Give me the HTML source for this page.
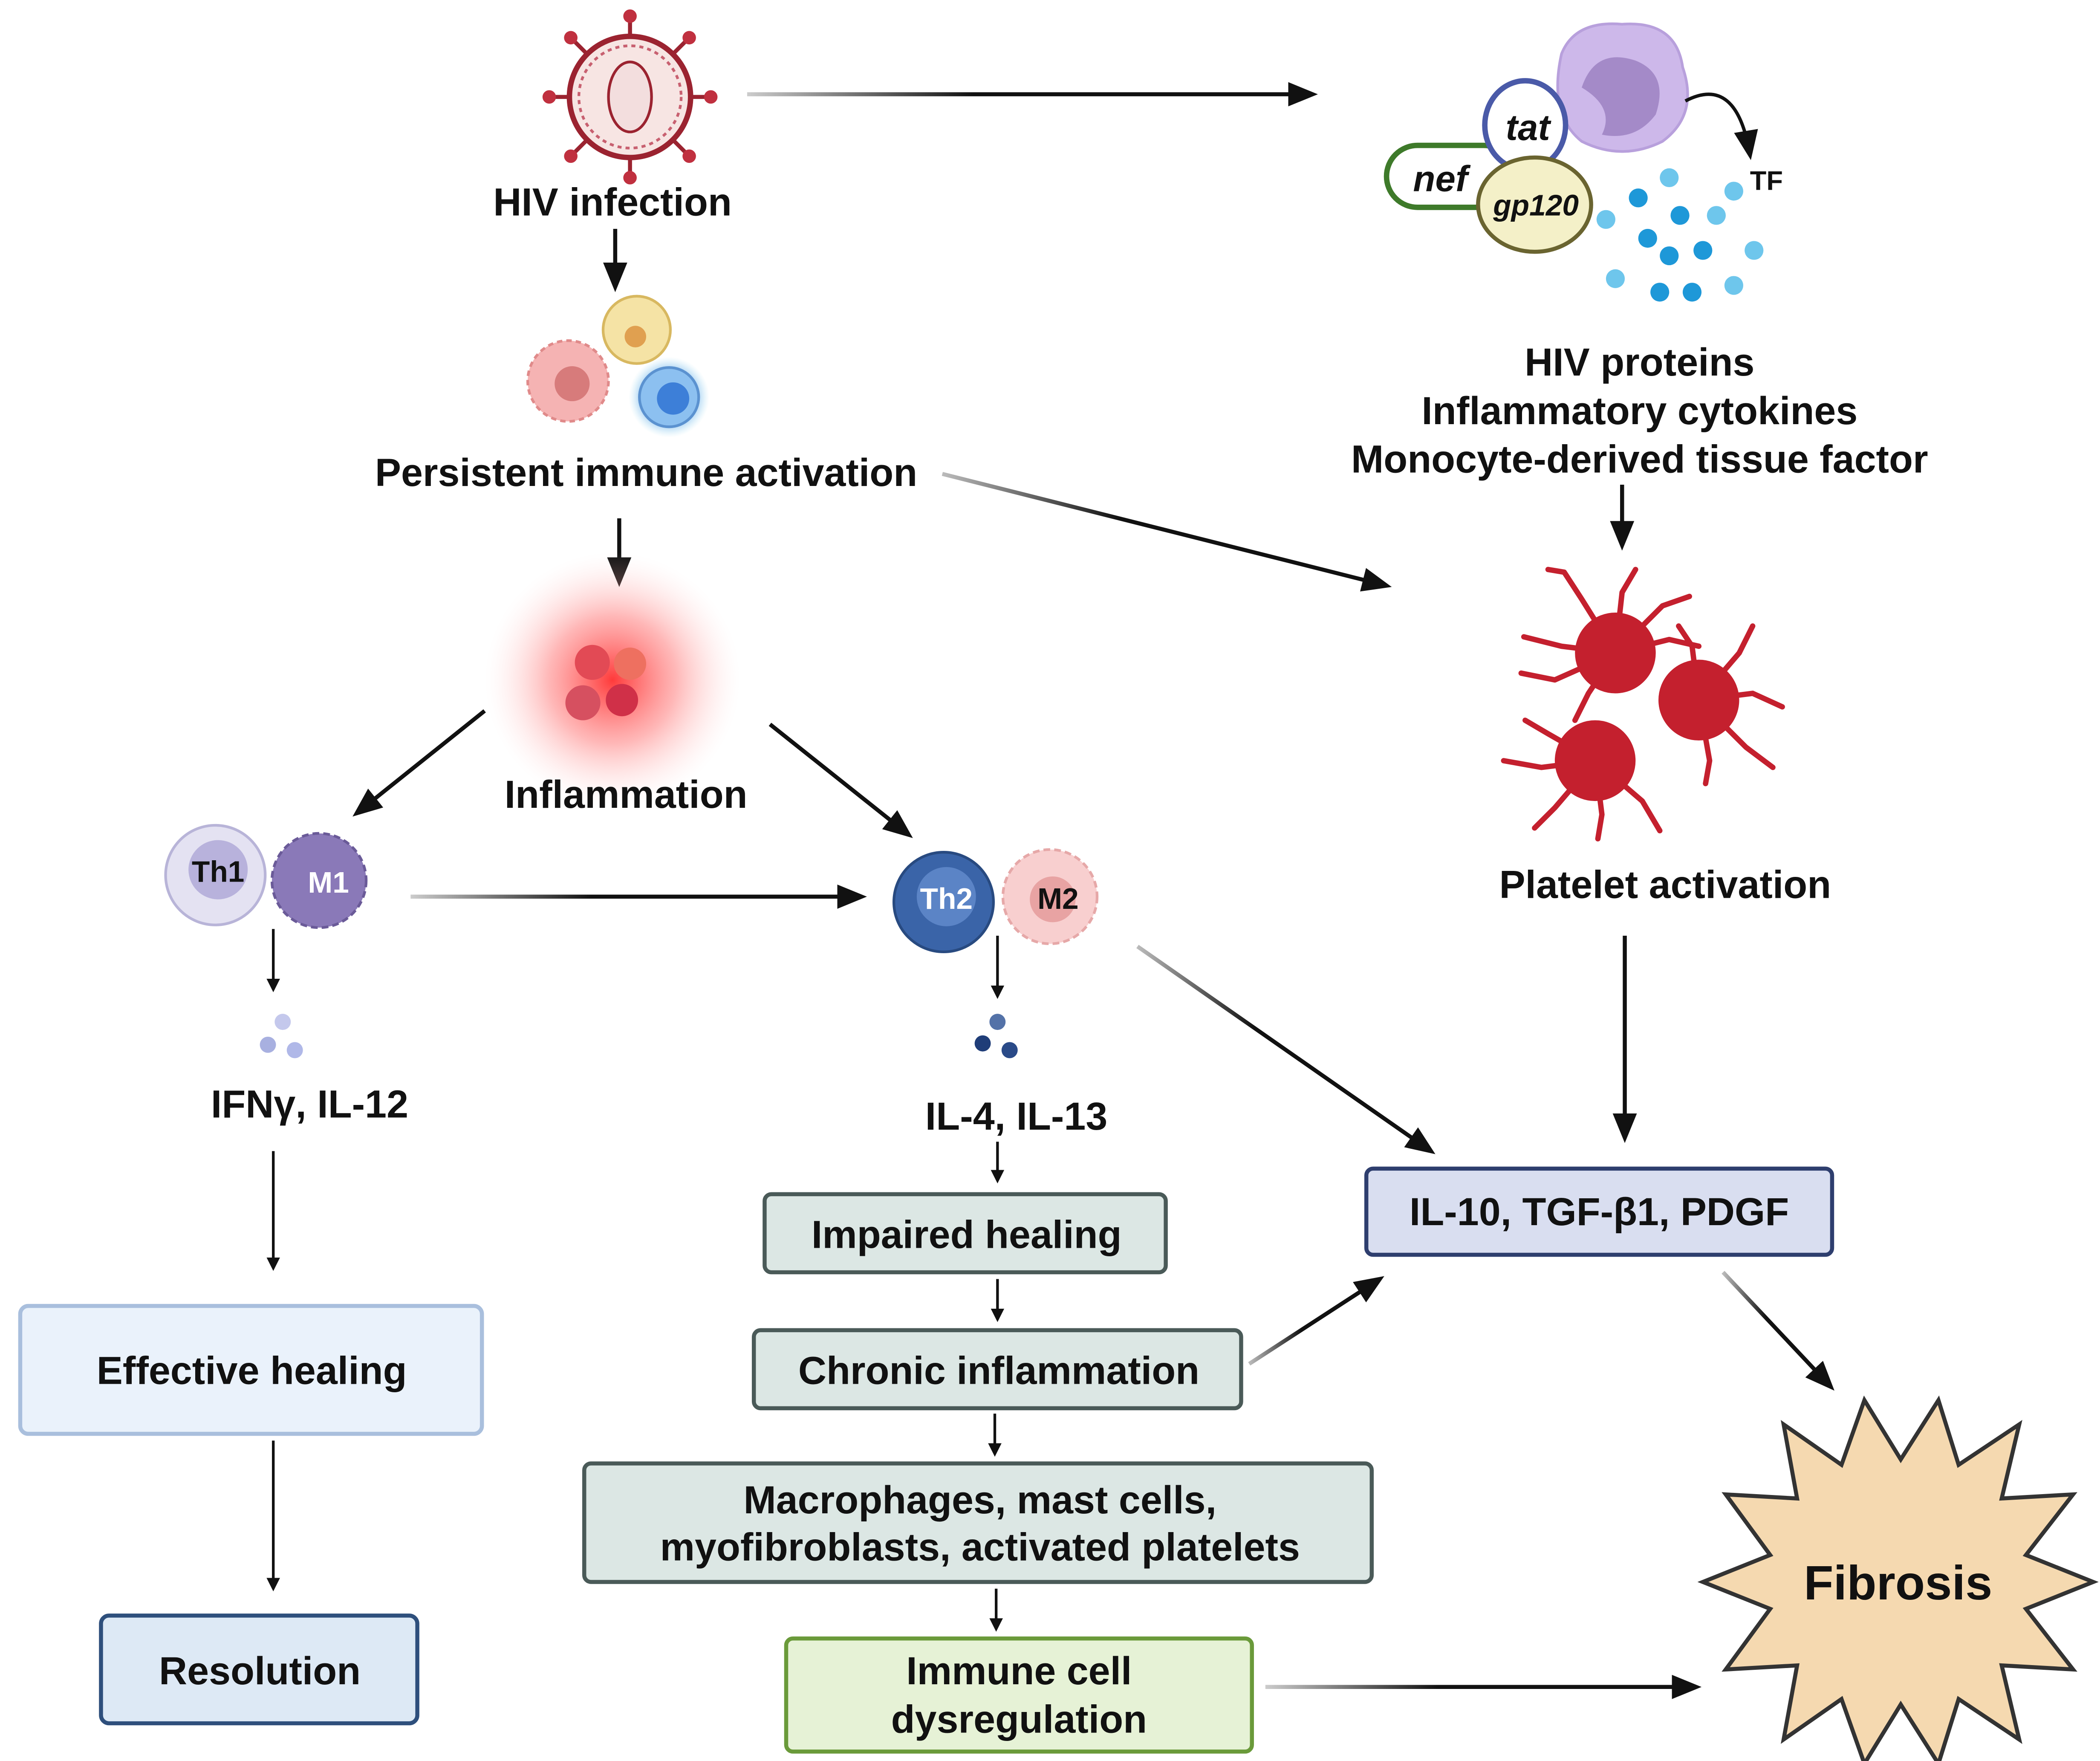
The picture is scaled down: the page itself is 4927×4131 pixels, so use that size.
<!DOCTYPE html>
<html><head><meta charset="utf-8">
<style>
html,body{margin:0;padding:0;background:#fff;}
svg{display:block;}
text{font-family:"Liberation Sans",sans-serif;font-weight:bold;fill:#111;}
</style></head>
<body>
<svg width="4927" height="4131" viewBox="0 0 1560 1308" xmlns="http://www.w3.org/2000/svg">
<defs>
<marker id="ah" markerWidth="10" markerHeight="10" refX="8" refY="5" orient="auto" markerUnits="userSpaceOnUse" viewBox="0 0 10 10">
<path d="M0,0 L10,5 L0,10 z" fill="#111"/></marker>
<marker id="ahb" markerWidth="22" markerHeight="22" refX="18" refY="11" orient="auto" markerUnits="userSpaceOnUse" viewBox="0 0 22 22">
<path d="M0,2 L22,11 L0,20 z" fill="#111"/></marker>
<linearGradient id="gh" x1="0" x2="1" y1="0" y2="0"><stop offset="0" stop-color="#bbb"/><stop offset="0.4" stop-color="#111"/></linearGradient>
<linearGradient id="g1" gradientUnits="userSpaceOnUse" x1="555" y1="0" x2="975" y2="0"><stop offset="0" stop-color="#ccc"/><stop offset="0.4" stop-color="#111"/></linearGradient>
<linearGradient id="g2" gradientUnits="userSpaceOnUse" x1="305" y1="0" x2="640" y2="0"><stop offset="0" stop-color="#ccc"/><stop offset="0.4" stop-color="#111"/></linearGradient>
<linearGradient id="g3" gradientUnits="userSpaceOnUse" x1="940" y1="0" x2="1260" y2="0"><stop offset="0" stop-color="#ccc"/><stop offset="0.4" stop-color="#111"/></linearGradient>
<radialGradient id="glow"><stop offset="0" stop-color="#ff3030" stop-opacity="0.95"/><stop offset="0.5" stop-color="#ff7070" stop-opacity="0.5"/><stop offset="1" stop-color="#ffdddd" stop-opacity="0"/></radialGradient>
<radialGradient id="bglow"><stop offset="0.6" stop-color="#7fb6ee"/><stop offset="1" stop-color="#bde8f5" stop-opacity="0"/></radialGradient>
</defs>

<!-- HIV virus -->
<g transform="translate(468,72)">
<g stroke="#9b2330" stroke-width="3">
<line x1="0" y1="-45" x2="0" y2="-58"/><line x1="0" y1="45" x2="0" y2="58"/>
<line x1="-45" y1="0" x2="-58" y2="0"/><line x1="45" y1="0" x2="58" y2="0"/>
<line x1="32" y1="32" x2="42" y2="42"/><line x1="-32" y1="32" x2="-42" y2="42"/>
<line x1="32" y1="-32" x2="42" y2="-42"/><line x1="-32" y1="-32" x2="-42" y2="-42"/>
</g>
<g fill="#c0303f">
<circle cx="0" cy="-60" r="5"/><circle cx="0" cy="60" r="5"/><circle cx="-60" cy="0" r="5"/><circle cx="60" cy="0" r="5"/>
<circle cx="44" cy="44" r="5"/><circle cx="-44" cy="44" r="5"/><circle cx="44" cy="-44" r="5"/><circle cx="-44" cy="-44" r="5"/>
</g>
<circle r="45" fill="#f7e5e3" stroke="#9b2330" stroke-width="4"/>
<circle r="38" fill="none" stroke="#c86070" stroke-width="2" stroke-dasharray="3 3"/>
<ellipse rx="16" ry="26" fill="#f3dede" stroke="#9b2330" stroke-width="2"/>
</g>
<text x="455" y="160" font-size="29" text-anchor="middle">HIV infection</text>

<line x1="555" y1="70" x2="975" y2="70" stroke="url(#g1)" stroke-width="3" marker-end="url(#ahb)"/>
<line x1="457" y1="170" x2="457" y2="213" stroke="#111" stroke-width="3" marker-end="url(#ahb)"/>

<!-- immune cells -->
<g>
<circle cx="422" cy="283" r="30" fill="#f5b3b3" stroke="#e08a8a" stroke-width="2" stroke-dasharray="4 3"/>
<circle cx="425" cy="285" r="13" fill="#d77b7b"/>
<circle cx="473" cy="245" r="25" fill="#f5e3a5" stroke="#d8b860" stroke-width="2"/>
<circle cx="472" cy="250" r="8" fill="#e0a050"/>
<circle cx="497" cy="295" r="30" fill="url(#bglow)"/>
<circle cx="497" cy="295" r="22" fill="#8cc0f0" stroke="#5b92d0" stroke-width="2"/>
<circle cx="500" cy="296" r="12" fill="#3d7fd8"/>
</g>
<text x="480" y="361" font-size="29" text-anchor="middle">Persistent immune activation</text>

<line x1="700" y1="352" x2="1030" y2="435" stroke="url(#gh)" stroke-width="3" marker-end="url(#ahb)"/>
<line x1="460" y1="385" x2="460" y2="432" stroke="#111" stroke-width="3" marker-end="url(#ahb)"/>

<!-- inflammation -->
<circle cx="455" cy="505" r="95" fill="url(#glow)"/>
<circle cx="440" cy="492" r="13" fill="#e24a55"/><circle cx="468" cy="493" r="12" fill="#ee7060"/>
<circle cx="433" cy="522" r="13" fill="#d65060"/><circle cx="462" cy="520" r="12" fill="#d03048"/>
<text x="465" y="600" font-size="29" text-anchor="middle">Inflammation</text>

<line x1="360" y1="528" x2="265" y2="604" stroke="#111" stroke-width="3" marker-end="url(#ahb)"/>
<line x1="572" y1="538" x2="675" y2="620" stroke="#111" stroke-width="3" marker-end="url(#ahb)"/>

<!-- Th1 M1 -->
<circle cx="160" cy="650" r="37" fill="#e4e2f2" stroke="#b8b4d8" stroke-width="2"/>
<circle cx="162" cy="646" r="22" fill="#b8b2dc"/>
<text x="162" y="655" font-size="22" text-anchor="middle" fill="#333">Th1</text>
<circle cx="237" cy="654" r="35" fill="#8a79b8" stroke="#6a5a98" stroke-width="2" stroke-dasharray="5 3"/>
<text x="244" y="663" font-size="22" text-anchor="middle" style="fill:#fff">M1</text>

<line x1="305" y1="666" x2="640" y2="666" stroke="url(#g2)" stroke-width="3" marker-end="url(#ahb)"/>

<!-- Th2 M2 -->
<circle cx="701" cy="670" r="37" fill="#3a64a8" stroke="#284a80" stroke-width="2"/>
<circle cx="703" cy="666" r="22" fill="#5b84c6"/>
<text x="703" y="675" font-size="22" text-anchor="middle" style="fill:#fff">Th2</text>
<circle cx="780" cy="666" r="35" fill="#f8cfcf" stroke="#e6a8a8" stroke-width="2" stroke-dasharray="5 3"/>
<circle cx="782" cy="668" r="17" fill="#e8a3a3"/>
<text x="786" y="675" font-size="22" text-anchor="middle" fill="#333">M2</text>

<!-- left column -->
<line x1="203" y1="690" x2="203" y2="735" stroke="#111" stroke-width="2" marker-end="url(#ah)"/>
<circle cx="210" cy="759" r="6" fill="#c4c8ec"/><circle cx="199" cy="776" r="6" fill="#a8b0e0"/><circle cx="219" cy="780" r="6" fill="#b0b8e8"/>
<text x="230" y="830" font-size="29" text-anchor="middle">IFNγ, IL-12</text>
<line x1="203" y1="855" x2="203" y2="942" stroke="#111" stroke-width="2" marker-end="url(#ah)"/>
<rect x="15" y="970" width="343" height="95" rx="6" fill="#eaf2fb" stroke="#a9bfdd" stroke-width="3"/>
<text x="187" y="1028" font-size="29" text-anchor="middle">Effective healing</text>
<line x1="203" y1="1070" x2="203" y2="1180" stroke="#111" stroke-width="2" marker-end="url(#ah)"/>
<rect x="75" y="1200" width="235" height="80" rx="6" fill="#dde9f5" stroke="#2e4f7c" stroke-width="3"/>
<text x="193" y="1251" font-size="29" text-anchor="middle">Resolution</text>

<!-- middle column -->
<line x1="741" y1="695" x2="741" y2="740" stroke="#111" stroke-width="2" marker-end="url(#ah)"/>
<circle cx="741" cy="759" r="6" fill="#5472a8"/><circle cx="730" cy="775" r="6" fill="#1f3d78"/><circle cx="750" cy="780" r="6" fill="#2a4a88"/>
<text x="755" y="839" font-size="29" text-anchor="middle">IL-4, IL-13</text>
<line x1="741" y1="848" x2="741" y2="877" stroke="#111" stroke-width="2" marker-end="url(#ah)"/>
<rect x="568" y="887" width="298" height="58" rx="5" fill="#dce7e4" stroke="#4a5a58" stroke-width="3"/>
<text x="718" y="927" font-size="29" text-anchor="middle">Impaired  healing</text>
<line x1="741" y1="950" x2="741" y2="980" stroke="#111" stroke-width="2" marker-end="url(#ah)"/>
<rect x="560" y="988" width="362" height="58" rx="5" fill="#dce7e4" stroke="#4a5a58" stroke-width="3"/>
<text x="742" y="1028" font-size="29" text-anchor="middle">Chronic inflammation</text>
<line x1="739" y1="1050" x2="739" y2="1080" stroke="#111" stroke-width="2" marker-end="url(#ah)"/>
<rect x="434" y="1087" width="585" height="88" rx="5" fill="#dce7e4" stroke="#4a5a58" stroke-width="3"/>
<text x="728" y="1124" font-size="29" text-anchor="middle">Macrophages, mast cells,</text>
<text x="728" y="1159" font-size="29" text-anchor="middle">myofibroblasts, activated platelets</text>
<line x1="740" y1="1180" x2="740" y2="1210" stroke="#111" stroke-width="2" marker-end="url(#ah)"/>
<rect x="584" y="1217" width="346" height="84" rx="5" fill="#e6f2d6" stroke="#6a9a3a" stroke-width="3"/>
<text x="757" y="1251" font-size="29" text-anchor="middle">Immune cell</text>
<text x="757" y="1287" font-size="29" text-anchor="middle">dysregulation</text>

<line x1="940" y1="1253" x2="1260" y2="1253" stroke="url(#g3)" stroke-width="3" marker-end="url(#ahb)"/>
<line x1="845" y1="703" x2="1063" y2="855" stroke="url(#gh)" stroke-width="3" marker-end="url(#ahb)"/>
<line x1="928" y1="1013" x2="1025" y2="950" stroke="url(#gh)" stroke-width="3" marker-end="url(#ahb)"/>

<!-- top right -->
<path d="M1160,40 Q1170,15 1205,18 Q1245,15 1250,50 Q1262,85 1235,105 Q1205,120 1175,105 Q1150,85 1160,40z" fill="#cdb8ea" stroke="#b8a0dc" stroke-width="2"/>
<path d="M1175,65 Q1185,35 1215,45 Q1240,55 1230,85 Q1215,105 1190,100 Q1200,80 1175,65z" fill="#a48ac8"/>
<path d="M1252,75 Q1290,55 1300,115" fill="none" stroke="#111" stroke-width="2.5" marker-end="url(#ahb)"/>
<text x="1300" y="141" font-size="20">TF</text>
<rect x="1030" y="108" width="95" height="46" rx="23" fill="#fff" stroke="#3e7a2a" stroke-width="4"/>
<ellipse cx="1133" cy="93" rx="30" ry="33" fill="#fff" stroke="#4a5aa8" stroke-width="4"/>
<text x="1135" y="104" font-size="27" font-style="italic" text-anchor="middle">tat</text>
<ellipse cx="1140" cy="152" rx="42" ry="35" fill="#f4f0c8" stroke="#6a6430" stroke-width="3"/>
<text x="1070" y="142" font-size="27" font-style="italic" text-anchor="middle">nef</text>
<text x="1141" y="160" font-size="22" font-style="italic" text-anchor="middle">gp120</text>
<g fill="#6ec6ec">
<circle cx="1240" cy="132" r="7"/><circle cx="1288" cy="142" r="7"/><circle cx="1193" cy="163" r="7"/><circle cx="1275" cy="160" r="7"/>
<circle cx="1303" cy="186" r="7"/><circle cx="1200" cy="207" r="7"/><circle cx="1288" cy="212" r="7"/>
</g>
<g fill="#1e98d8">
<circle cx="1217" cy="147" r="7"/><circle cx="1248" cy="160" r="7"/><circle cx="1224" cy="177" r="7"/><circle cx="1265" cy="186" r="7"/>
<circle cx="1240" cy="190" r="7"/><circle cx="1233" cy="217" r="7"/><circle cx="1257" cy="217" r="7"/>
</g>
<text x="1218" y="279" font-size="29" text-anchor="middle">HIV proteins</text>
<text x="1218" y="315" font-size="29" text-anchor="middle">Inflammatory cytokines</text>
<text x="1218" y="351" font-size="29" text-anchor="middle">Monocyte-derived tissue factor</text>
<line x1="1205" y1="360" x2="1205" y2="405" stroke="#111" stroke-width="3" marker-end="url(#ahb)"/>

<!-- platelets -->
<g fill="#c4202e" stroke="#c4202e" stroke-width="4" stroke-linecap="round" stroke-linejoin="round">
<g transform="translate(1200,485)"><circle r="28"/>
<polyline fill="none" points="0,0 -40,-5 -68,-12"/><polyline fill="none" points="0,0 -25,-40 -38,-60 -50,-62"/><polyline fill="none" points="0,0 5,-45 15,-62"/><polyline fill="none" points="0,0 35,-35 55,-42"/><polyline fill="none" points="0,0 -45,20 -70,15"/><polyline fill="none" points="0,0 40,-10 62,-5"/><polyline fill="none" points="0,0 -20,30 -30,50"/></g>
<g transform="translate(1262,520)"><circle r="28"/>
<polyline fill="none" points="0,0 40,-5 62,5"/><polyline fill="none" points="0,0 30,-35 40,-55"/><polyline fill="none" points="0,0 35,35 55,50"/><polyline fill="none" points="0,0 8,45 5,62"/><polyline fill="none" points="0,0 -5,-40 -15,-55"/></g>
<g transform="translate(1185,565)"><circle r="28"/>
<polyline fill="none" points="0,0 -40,5 -68,0"/><polyline fill="none" points="0,0 -30,35 -45,50"/><polyline fill="none" points="0,0 5,40 2,58"/><polyline fill="none" points="0,0 35,30 48,52"/><polyline fill="none" points="0,0 -35,-20 -52,-30"/></g>
</g>
<text x="1237" y="667" font-size="29" text-anchor="middle">Platelet activation</text>
<line x1="1207" y1="695" x2="1207" y2="845" stroke="#111" stroke-width="3" marker-end="url(#ahb)"/>

<rect x="1015" y="868" width="346" height="64" rx="5" fill="#d9def0" stroke="#2e3e6e" stroke-width="3"/>
<text x="1188" y="910" font-size="29" text-anchor="middle">IL-10, TGF-β1, PDGF</text>
<line x1="1280" y1="945" x2="1360" y2="1030" stroke="url(#gh)" stroke-width="3" marker-end="url(#ahb)"/>

<!-- fibrosis star -->
<polygon fill="#f5d9b0" stroke="#333" stroke-width="3" points="
1555,1175 1505,1195 1540,1240 1487,1237 1500,1292 1455,1262 1440,1310 1412,1266 1385,1310 1368,1262 1325,1292 1335,1237 1282,1240 1315,1195 1265,1175 1315,1155 1282,1110 1335,1113 1325,1058 1368,1088 1385,1040 1412,1084 1440,1040 1455,1088 1500,1058 1487,1113 1540,1110 1505,1155"/>
<text x="1410" y="1188" font-size="36" text-anchor="middle">Fibrosis</text>
</svg>
</body></html>
